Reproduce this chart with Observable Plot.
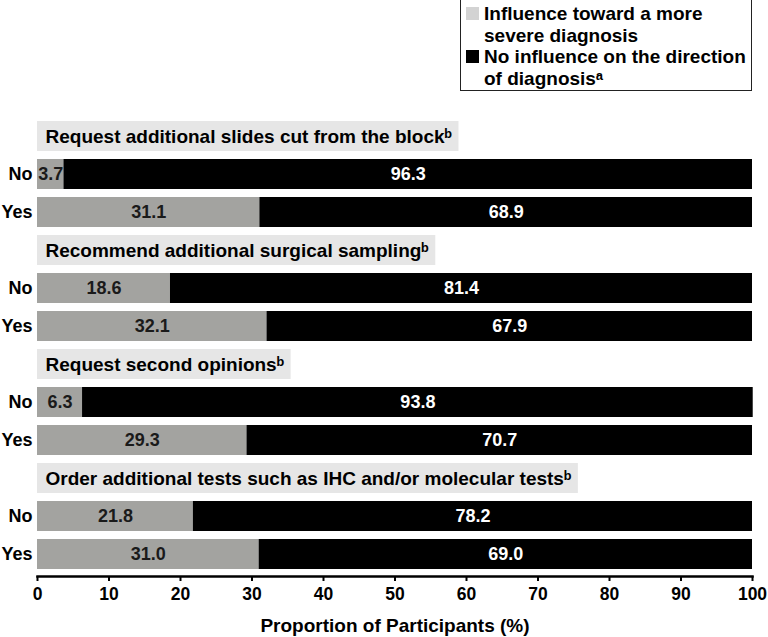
<!DOCTYPE html>
<html>
<head>
<meta charset="utf-8">
<script src="https://cdn.jsdelivr.net/npm/d3@7"></script>
<script src="https://cdn.jsdelivr.net/npm/@observablehq/plot@0.6"></script>
<style>
  html, body { margin: 0; padding: 0; background: #fff; }
  #wrap { position: relative; width: 768px; height: 637px; font-family: "Liberation Sans", Arial, sans-serif; font-weight: bold; }
  #legend { position: absolute; left: 460px; top: -2px; width: 292px; height: 93px; border: 1.5px solid #222; box-sizing: border-box; font-size: 19px; line-height: 21.5px; color: #000; }
  .item { position: absolute; left: 5px; padding-left: 18px; white-space: nowrap; }
  .sw { position: absolute; left: 0; top: 4px; width: 13px; height: 13px; }
</style>
</head>
<body>
<div id="wrap">
  <div id="chart"></div>
  <div id="legend">
    <div class="item" style="top:4px"><span class="sw" style="background:#d3d3d3"></span>Influence toward a more<br>severe diagnosis</div>
    <div class="item" style="top:47px"><span class="sw" style="background:#000"></span>No influence on the direction<br>of diagnosisᵃ</div>
  </div>
</div>
<script>
const categories = [
  "Request additional slides cut from the block",
  "Recommend additional surgical sampling",
  "Request second opinions",
  "Order additional tests such as IHC and/or molecular tests"
];
const responses = ["No", "Yes"];
const severe =      [3.7, 31.1, 18.6, 32.1, 6.3, 29.3, 21.8, 31.0];
const noInfluence = [96.3, 68.9, 81.4, 67.9, 93.8, 70.7, 78.2, 69.0];
const xTicks = [0, 10, 20, 30, 40, 50, 60, 70, 80, 90, 100];
const xTitle = "Proportion of Participants (%)";

const W = 768, H = 637, mL = 37, mR = 16;
const pxPerUnit = (W - mL - mR) / 100;
const FAMILY = "'Liberation Sans', Arial, sans-serif";
const ctx = document.createElement("canvas").getContext("2d");
ctx.font = "bold 19px " + FAMILY;

const rowKeys = [];
const headers = [];
const bars = [];
categories.forEach((c, i) => {
  const label = c + "ᵇ";
  const tw = ctx.measureText(label).width;
  rowKeys.push("h" + i);
  headers.push({ key: "h" + i, label, x2: (tw + 15) / pxPerUnit });
  responses.forEach((r, j) => {
    const key = i + "-" + r;
    rowKeys.push(key);
    const s = severe[i * 2 + j], n = noInfluence[i * 2 + j];
    bars.push({ key, s, n });
  });
});

const plot = Plot.plot({
  width: W, height: H,
  marginLeft: mL, marginRight: mR, marginTop: 113, marginBottom: 61,
  style: { fontFamily: FAMILY, fontSize: "18px", fontWeight: "bold", color: "#000", background: "#fff", overflow: "visible" },
  x: { domain: [0, 100] },
  y: { type: "band", domain: rowKeys, paddingInner: 0.22, paddingOuter: 0.13 },
  marks: [
    Plot.barX(headers, { x1: 0, x2: "x2", y: "key", fill: "#e6e6e6" }),
    Plot.text(headers, { x: 0, y: "key", text: "label", textAnchor: "start", dx: 8, fill: "#000", fontSize: 19 }),
    Plot.barX(bars, { x1: 0, x2: "s", y: "key", fill: "#a3a3a0" }),
    Plot.barX(bars, { x1: "s", x2: d => d.s + d.n, y: "key", fill: "#000" }),
    Plot.text(bars, { x: d => d.s / 2, y: "key", text: d => d.s.toFixed(1), fill: "#1a1a1a", fontSize: 18 }),
    Plot.text(bars, { x: d => d.s + d.n / 2, y: "key", text: d => d.n.toFixed(1), fill: "#fff", fontSize: 18 }),
    Plot.axisY({ tickSize: 0, tickPadding: 5, fontSize: 18, label: null, tickFormat: k => k.startsWith("h") ? "" : k.split("-")[1] }),
    Plot.frame({ anchor: "bottom", stroke: "#000", strokeWidth: 2.5 }),
    Plot.axisX({ ticks: xTicks, tickSize: 5, tickPadding: 6, fontSize: 17.5, label: null, strokeWidth: 2 }),
    Plot.text([xTitle], { frameAnchor: "bottom", dy: 55, fontSize: 19, fill: "#000" })
  ]
});
document.getElementById("chart").appendChild(plot);
</script>
</body>
</html>
